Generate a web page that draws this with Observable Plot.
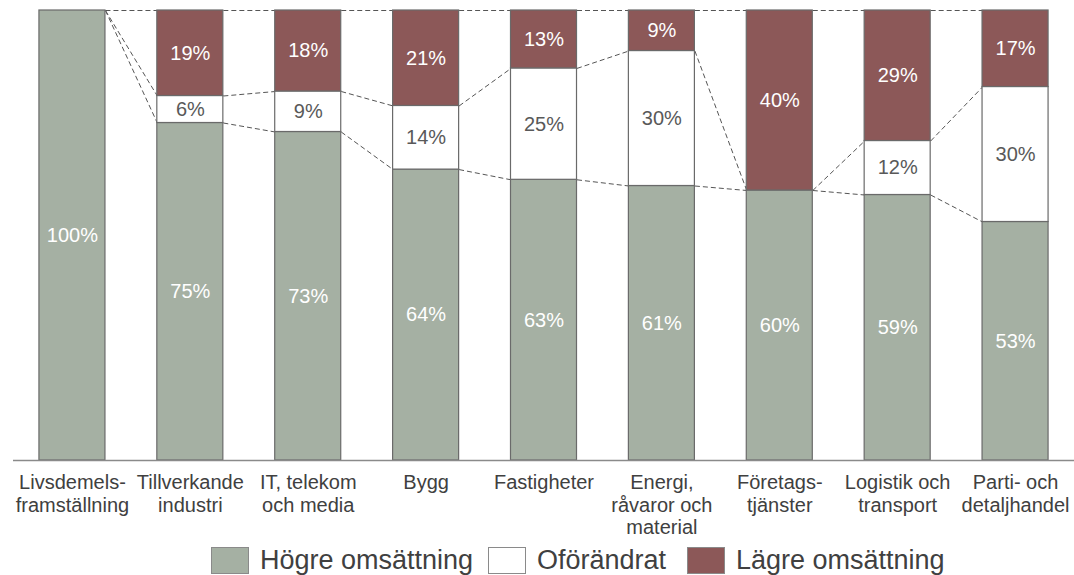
<!DOCTYPE html>
<html>
<head>
<meta charset="utf-8">
<script src="https://cdn.jsdelivr.net/npm/d3@7"></script>
<script src="https://cdn.jsdelivr.net/npm/@observablehq/plot@0.6"></script>
<style>
  html, body { margin: 0; padding: 0; background: #fff; }
  body { width: 1074px; height: 575px; overflow: hidden; font-family: "Liberation Sans", Arial, sans-serif; }
  #legend { position: relative; height: 35px; }
  .item { position: absolute; top: 7px; display: flex; align-items: center; }
  .sw { width: 38px; height: 27px; box-sizing: border-box; border: 1px solid #8a8a8a; margin-right: 11px; }
  .lab { font-size: 27px; color: #404040; line-height: 27px; white-space: nowrap; }
</style>
</head>
<body>
<div id="chart"></div>
<div id="legend"></div>
<script>
const categories = ["Livsdemels-\nframställning", "Tillverkande\nindustri", "IT, telekom\noch media", "Bygg", "Fastigheter", "Energi,\nråvaror och\nmaterial", "Företags-\ntjänster", "Logistik och\ntransport", "Parti- och\ndetaljhandel"];
const series = ["Högre omsättning", "Oförändrat", "Lägre omsättning"];
const higher    = [100, 75, 73, 64, 63, 61, 60, 59, 53];
const unchanged = [0, 6, 9, 14, 25, 30, 0, 12, 30];
const lower     = [0, 19, 18, 21, 13, 9, 40, 29, 17];
const colors = ["#a5b0a3", "#ffffff", "#8c5858"];

const values = [higher, unchanged, lower];
const data = [];
categories.forEach((c, i) => {
  series.forEach((s, k) => data.push({i, category: c, series: s, value: values[k][i]}));
});

// stacked boundaries (normalized) for the dashed connectors
const bounds = categories.map((c, i) => {
  const tot = higher[i] + unchanged[i] + lower[i];
  return [higher[i] / tot, (higher[i] + unchanged[i]) / tot, 1];
});
const hw = 0.28;
const links = [];
for (let i = 0; i < categories.length - 1; i++) {
  for (let b = 0; b < 3; b++) {
    links.push({x1: i + hw, y1: bounds[i][b], x2: i + 1 - hw, y2: bounds[i + 1][b]});
  }
}

const stackOpts = {offset: "normalize", order: null};

const chart = Plot.plot({
  width: 1074,
  height: 540,
  marginTop: 10,
  marginBottom: 80,
  marginLeft: 13,
  marginRight: 0,
  style: {fontFamily: "Liberation Sans, Arial, sans-serif", background: "white"},
  x: {domain: [-0.5, categories.length - 0.5], axis: null},
  y: {domain: [0, 1], axis: null},
  color: {domain: series, range: colors},
  marks: [
    Plot.link(links, {x1: "x1", y1: "y1", x2: "x2", y2: "y2", stroke: "#555", strokeWidth: 1, strokeDasharray: "5,3"}),
    Plot.rectY(data, Plot.stackY({
      x1: d => d.i - hw, x2: d => d.i + hw, y: "value", fill: "series",
      stroke: "#6a6a6a", strokeWidth: 1.2, ...stackOpts
    })),
    Plot.ruleY([0], {stroke: "#8a8a8a", strokeWidth: 1.5}),
    Plot.text(data, Plot.stackY({
      x: "i", y: "value", ...stackOpts,
      text: d => d.value > 0 && d.series !== "Oförändrat" ? d.value + "%" : "",
      fill: "white", fontSize: 20
    })),
    Plot.text(data, Plot.stackY({
      x: "i", y: "value", ...stackOpts,
      text: d => d.value > 0 && d.series === "Oförändrat" ? d.value + "%" : "",
      fill: "#595959", fontSize: 20
    })),
    Plot.axisX(d3.range(categories.length), {
      tickFormat: i => categories[i], tickSize: 0, tickPadding: 13,
      fontSize: 20, lineHeight: 1.12, fill: "#404040", label: null
    })
  ]
});
document.getElementById("chart").appendChild(chart);

const legendX = [211, 488, 687];
const legend = document.getElementById("legend");
series.forEach((s, k) => {
  const item = document.createElement("div");
  item.className = "item";
  item.style.left = legendX[k] + "px";
  const sw = document.createElement("div");
  sw.className = "sw";
  sw.style.background = colors[k];
  const lab = document.createElement("span");
  lab.className = "lab";
  lab.textContent = s;
  item.appendChild(sw);
  item.appendChild(lab);
  legend.appendChild(item);
});
</script>
</body>
</html>
